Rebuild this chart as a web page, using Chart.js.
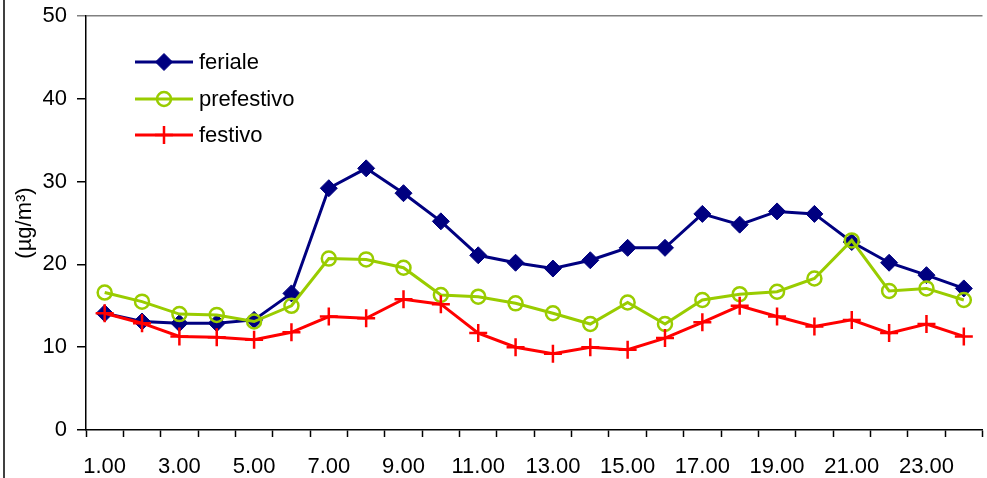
<!DOCTYPE html>
<html>
<head>
<meta charset="utf-8">
<script src="https://cdn.jsdelivr.net/npm/chart.js@4.4.0/dist/chart.umd.min.js"></script>
<style>
    html, body { margin: 0; padding: 0; background: #fff; overflow: hidden; }
    #wrap { position: relative; width: 994px; height: 478px; }
</style>
</head>
<body>
<div id="wrap"><canvas id="grafico" width="994" height="478"></canvas></div>
<script>
// ore del giorno
var ore = ['1.00', '2.00', '3.00', '4.00', '5.00', '6.00', '7.00', '8.00', '9.00', '10.00', '11.00', '12.00',
           '13.00', '14.00', '15.00', '16.00', '17.00', '18.00', '19.00', '20.00', '21.00', '22.00', '23.00', '24.00'];

// valori medi (µg/m3)
var feriale = [14.1, 13.1, 12.9, 12.9, 13.3, 16.5, 29.2, 31.6, 28.6, 25.2, 21.1, 20.2,
               19.5, 20.5, 22.0, 22.0, 26.1, 24.8, 26.4, 26.1, 22.7, 20.2, 18.7, 17.1];
var prefestivo = [16.6, 15.5, 14.0, 13.9, 13.1, 15.0, 20.7, 20.6, 19.6, 16.3, 16.1, 15.3,
                  14.1, 12.8, 15.4, 12.8, 15.7, 16.4, 16.7, 18.3, 22.9, 16.8, 17.1, 15.7];
var festivo = [14.1, 12.9, 11.3, 11.2, 10.9, 11.8, 13.7, 13.5, 15.8, 15.2, 11.7, 10.0,
               9.2, 10.0, 9.7, 11.1, 13.0, 15.0, 13.7, 12.5, 13.3, 11.7, 12.8, 11.3];

// tick asse y
var yMin = 0;
var yMax = 50;
var yStep = 10;

var fontName = '"Liberation Sans", Arial, sans-serif';
var fontSize = 22;

var serie = [
    { label: 'feriale', data: feriale, color: '#000080', fill: '#000080', style: 'rectRot', radius: 8.5, bw: 1, order: 2 },
    { label: 'prefestivo', data: prefestivo, color: '#99CC00', fill: 'rgba(0,0,0,0)', style: 'circle', radius: 7, bw: 2.5, order: 1 },
    { label: 'festivo', data: festivo, color: '#FF0000', fill: '#FF0000', style: 'cross', radius: 9, bw: 2.5, order: 0 }
];

// legenda dentro l'area del grafico + bordo sinistro
var legendaPlugin = {
    id: 'legenda',
    afterDraw: function (chart) {
        var ctx = chart.ctx;
        ctx.save();

        // linea verticale a sinistra
        ctx.strokeStyle = '#000';
        ctx.lineWidth = 1.5;
        ctx.beginPath();
        ctx.moveTo(4, 0);
        ctx.lineTo(4, 478);
        ctx.stroke();

        var righe = [62, 99, 135];
        serie.forEach(function (s, i) {
            var y = righe[i];
            ctx.strokeStyle = s.color;
            ctx.lineWidth = 3;
            ctx.beginPath();
            ctx.moveTo(135, y);
            ctx.lineTo(193, y);
            ctx.stroke();

            ctx.fillStyle = s.fill;
            ctx.strokeStyle = s.color;
            ctx.lineWidth = s.bw;
            Chart.helpers.drawPoint(ctx, { pointStyle: s.style, radius: s.radius, borderWidth: s.bw, rotation: 0 }, 164, y);

            ctx.fillStyle = '#000';
            ctx.font = fontSize + 'px ' + fontName;
            ctx.textAlign = 'left';
            ctx.textBaseline = 'middle';
            ctx.fillText(s.label, 199, y + 1);
        });
        ctx.restore();
    }
};

var datasets = serie.map(function (s) {
    return {
        label: s.label,
        data: s.data,
        borderColor: s.color,
        borderWidth: 3,
        pointStyle: s.style,
        pointRadius: s.radius,
        pointHoverRadius: s.radius,
        pointBackgroundColor: s.fill,
        pointBorderColor: s.color,
        pointBorderWidth: s.bw,
        tension: 0,
        order: s.order
    };
});

var ctx = document.getElementById('grafico').getContext('2d');
var grafico = new Chart(ctx, {
    type: 'line',
    data: {
        labels: ore,
        datasets: datasets
    },
    plugins: [legendaPlugin],
    options: {
        responsive: false,
        animation: false,
        layout: { padding: { top: 16, left: 0, right: 0, bottom: 0 } },
        plugins: {
            legend: { display: false },
            tooltip: { enabled: false }
        },
        scales: {
            x: {
                offset: true,
                afterFit: function (scale) {
                    scale.height = 48;
                    scale.paddingLeft = 0;
                    scale.paddingRight = 0;
                },
                grid: {
                    offset: true,
                    drawOnChartArea: false,
                    drawTicks: true,
                    tickLength: 7,
                    tickColor: '#000',
                    tickWidth: 1.5
                },
                border: { display: true, color: '#000', width: 1.5 },
                ticks: {
                    autoSkip: false,
                    maxRotation: 0,
                    padding: 17,
                    color: '#000',
                    font: { family: fontName, size: fontSize },
                    callback: function (value, index) {
                        return index % 2 === 0 ? ore[index] : '';
                    }
                }
            },
            y: {
                min: yMin,
                max: yMax,
                afterFit: function (scale) {
                    scale.width = 86;
                    scale.paddingTop = 0;
                    scale.paddingBottom = 0;
                },
                grid: {
                    drawTicks: true,
                    tickLength: 9,
                    color: function (c) {
                        return c.tick && c.tick.value === yMax ? '#808080' : 'rgba(0,0,0,0)';
                    },
                    tickColor: function (c) {
                        return c.tick && c.tick.value === yMax ? '#808080' : '#000';
                    },
                    lineWidth: 1.5,
                    tickWidth: 1.5
                },
                border: { display: true, color: '#000', width: 1.5 },
                ticks: {
                    stepSize: yStep,
                    padding: 10,
                    color: '#000',
                    font: { family: fontName, size: fontSize }
                },
                title: {
                    display: true,
                    text: '(µg/m³)',
                    color: '#000',
                    font: { family: fontName, size: fontSize },
                    padding: { top: 12, bottom: 0 }
                }
            }
        }
    }
});
</script>
</body>
</html>
